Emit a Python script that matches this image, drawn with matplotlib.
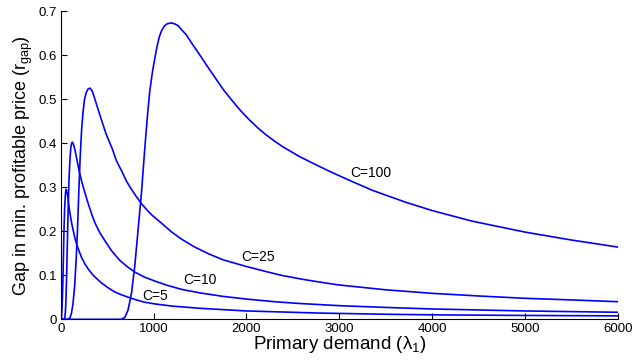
import matplotlib
matplotlib.use("Agg")
import matplotlib.pyplot as plt

plt.rcParams['font.family'] = ['Liberation Sans', 'DejaVu Sans']
plt.rcParams['mathtext.default'] = 'regular'

# C = 5
x_c5 = [0, 8, 15, 20, 25, 30, 35, 42, 50, 57, 65, 75, 96, 121, 150, 175, 221, 260,
        300, 350, 400, 443, 500, 583, 650, 729, 800, 900, 1012, 1200, 1500, 2000,
        2782, 3500, 4000, 5000, 6000]
y_c5 = [0, 0.004, 0.03, 0.06, 0.1, 0.15, 0.2, 0.25, 0.283, 0.295, 0.292, 0.28, 0.245,
        0.215, 0.187, 0.168, 0.142, 0.126, 0.113, 0.1, 0.09, 0.082, 0.073, 0.062,
        0.056, 0.05, 0.045, 0.039, 0.035, 0.030, 0.025, 0.019, 0.0142, 0.0115, 0.0102,
        0.0088, 0.0078]

# C = 10
x_c10 = [0, 38, 45, 50, 56, 62, 71, 80, 89, 100, 110, 120, 128, 140, 155, 175, 200,
         230, 257, 300, 340, 371, 420, 480, 550, 640, 720, 800, 900, 1012, 1150, 1301,
         1500, 1750, 2000, 2300, 2568, 3000, 3500, 4000, 5000, 6000]
y_c10 = [0, 0, 0.005, 0.015, 0.04, 0.085, 0.165, 0.25, 0.315, 0.365, 0.392, 0.401,
         0.402, 0.396, 0.383, 0.362, 0.335, 0.31, 0.29, 0.26, 0.235, 0.218, 0.197,
         0.177, 0.155, 0.133, 0.119, 0.107, 0.096, 0.087, 0.077, 0.068, 0.06, 0.052,
         0.046, 0.04, 0.036, 0.031, 0.027, 0.0235, 0.019, 0.016]

# C = 25
x_c25 = [0, 85, 100, 115, 132, 150, 165, 180, 195, 210, 225, 240, 257, 275, 295, 315,
         340, 371, 405, 443, 490, 550, 600, 658, 710, 765, 820, 872, 925, 980, 1087,
         1190, 1301, 1443, 1600, 1750, 1998, 2200, 2373, 2600, 2836, 2997, 3500, 3998,
         4500, 5000, 5500, 6000]
y_c25 = [0, 0, 0.004, 0.013, 0.035, 0.075, 0.13, 0.2, 0.29, 0.37, 0.43, 0.47, 0.5,
         0.515, 0.523, 0.525, 0.518, 0.498, 0.475, 0.45, 0.42, 0.39, 0.36, 0.336, 0.313,
         0.294, 0.277, 0.262, 0.249, 0.237, 0.218, 0.199, 0.182, 0.164, 0.148, 0.135,
         0.12, 0.109, 0.1, 0.091, 0.083, 0.078, 0.067, 0.059, 0.053, 0.0477, 0.044, 0.04]

# C = 100
x_c100 = [0, 650, 690, 725, 762, 797, 833, 869, 906, 935, 960, 990, 1030, 1060, 1083,
          1110, 1137, 1165, 1191, 1225, 1262, 1300, 1352, 1420, 1495, 1580, 1674, 1760,
          1852, 1940, 2031, 2120, 2210, 2300, 2389, 2478, 2567, 2747, 2925, 3104, 3354,
          3712, 3998, 4427, 5000, 5500, 6000]
y_c100 = [0, 0, 0.004, 0.021, 0.059, 0.12, 0.203, 0.286, 0.39, 0.465, 0.52, 0.565,
          0.612, 0.64, 0.654, 0.664, 0.670, 0.672, 0.673, 0.671, 0.667, 0.658, 0.646,
          0.624, 0.601, 0.574, 0.545, 0.519, 0.495, 0.473, 0.453, 0.435, 0.419, 0.405,
          0.392, 0.381, 0.370, 0.351, 0.333, 0.316, 0.293, 0.266, 0.247, 0.223, 0.198,
          0.180, 0.164]

labels = ["C=5", "C=10", "C=25", "C=100"]
label_x = [1012, 1495, 2120, 3337]
label_y = [0.054, 0.089, 0.141, 0.332]

fig = plt.figure(figsize=(6.33, 3.6), dpi=100)
ax = fig.add_axes([0.0959, 0.113, 0.9763 - 0.0959, 0.9694 - 0.113])

for xs, ys in [(x_c5, y_c5), (x_c10, y_c10), (x_c25, y_c25), (x_c100, y_c100)]:
    ax.plot(xs, ys, color=(0, 0, 1), lw=1.2, solid_joinstyle='round')

for t, tx, ty in zip(labels, label_x, label_y):
    ax.text(tx, ty, t, fontsize=10, ha='center', va='center')

ax.set_xlim(0, 6000)
ax.set_ylim(0, 0.7)
ax.set_xticks([0, 1000, 2000, 3000, 4000, 5000, 6000])
ax.set_xticklabels(['0', '1000', '2000', '3000', '4000', '5000', '6000'])
ax.set_yticks([0, 0.1, 0.2, 0.3, 0.4, 0.5, 0.6, 0.7])
ax.set_yticklabels(['0', '0.1', '0.2', '0.3', '0.4', '0.5', '0.6', '0.7'])
ax.tick_params(direction='in', length=4, labelsize=9.5, pad=3)
ax.spines['top'].set_visible(False)
ax.spines['right'].set_visible(False)
ax.set_xlabel('Primary demand (λ$_1$)', fontsize=13.5, labelpad=-1)
ax.set_ylabel('Gap in min. profitable price (r$_{gap}$)', fontsize=13, labelpad=2)

fig.savefig('out.png', dpi=100)
